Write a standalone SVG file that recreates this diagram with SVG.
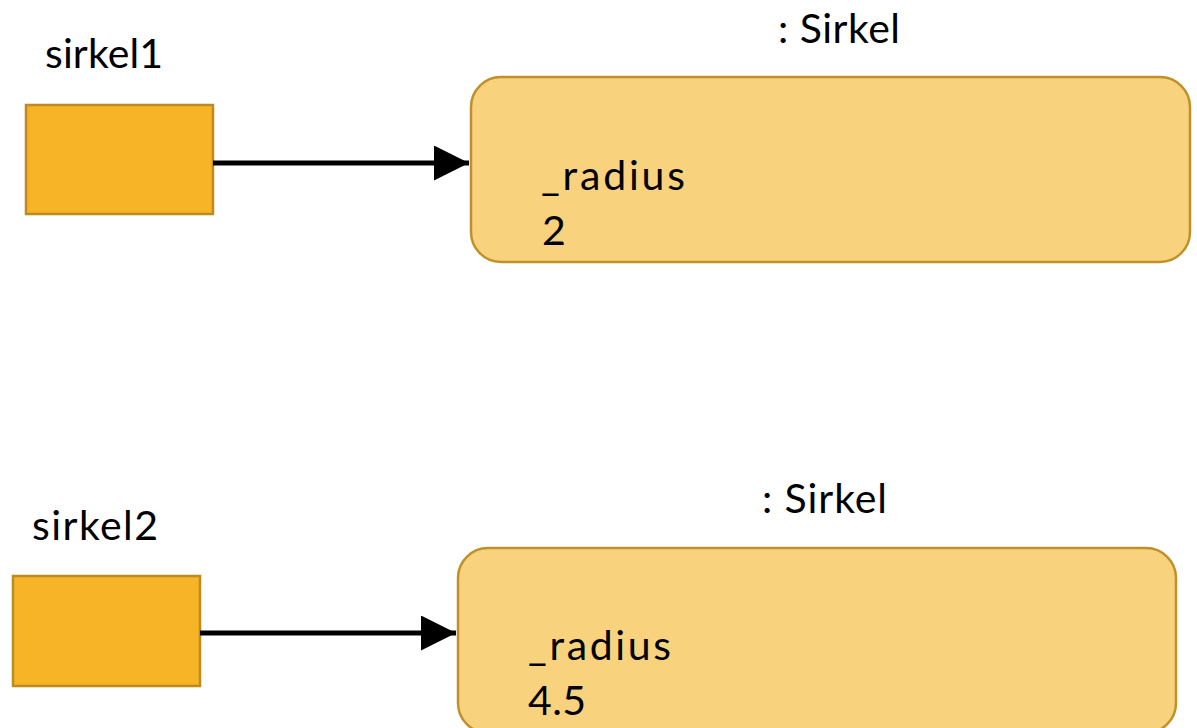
<svg xmlns="http://www.w3.org/2000/svg" width="1197" height="728" viewBox="0 0 1197 728">
  <defs>
    <style>
      .lbl { font-family: Lato, "Open Sans", "Liberation Sans", sans-serif; font-size: 41px; fill: #000; }
      .ref { fill: #F6B426; stroke: #BD8B1E; stroke-width: 2.5; }
      .obj { fill: #F9D27E; stroke: #C0912A; stroke-width: 2.5; }
      .conn { stroke: #000; stroke-width: 5; fill: none; }
    </style>
    <marker id="head" markerUnits="userSpaceOnUse" markerWidth="36" markerHeight="36" refX="35" refY="17.5" orient="auto">
      <path d="M0,0 L35,17.5 L0,35 Z" fill="#000"/>
    </marker>
  </defs>
  <rect width="1197" height="728" fill="#fff"/>

  <!-- reference variables -->
  <g id="sirkel1">
    <text class="lbl" x="45" y="68" textLength="118">sirkel1</text>
    <rect class="ref" x="26" y="105" width="187" height="109"/>
  </g>
  <g id="sirkel2">
    <text class="lbl" x="32" y="540" textLength="126">sirkel2</text>
    <rect class="ref" x="13" y="576" width="187" height="110"/>
  </g>

  <!-- Sirkel objects -->
  <g id="obj1">
    <text class="lbl" x="778" y="43" textLength="122">: Sirkel</text>
    <rect class="obj" x="471" y="77" width="719" height="185" rx="30" ry="30"/>
    <text class="lbl" x="541" y="190" textLength="144">_radius</text>
    <text class="lbl" x="542" y="245">2</text>
  </g>
  <g id="obj2">
    <text class="lbl" x="762" y="513" textLength="125">: Sirkel</text>
    <rect class="obj" x="458" y="548" width="718" height="185" rx="30" ry="30"/>
    <text class="lbl" x="528" y="660" textLength="143">_radius</text>
    <text class="lbl" x="528" y="715" textLength="58">4.5</text>
  </g>

  <!-- connectors -->
  <g id="connectors">
    <line class="conn" x1="213" y1="163" x2="469" y2="163" marker-end="url(#head)"/>
    <line class="conn" x1="200" y1="633" x2="456" y2="633" marker-end="url(#head)"/>
  </g>
</svg>
